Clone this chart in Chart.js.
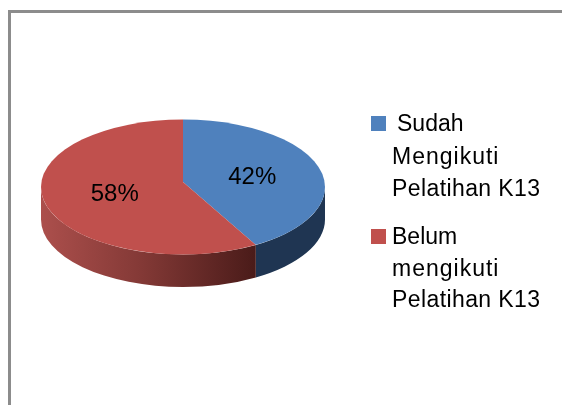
<!DOCTYPE html>
<html>
<head>
<meta charset="utf-8">
<style>
html,body{margin:0;padding:0;background:#fff;overflow:hidden}
#wrap{position:relative;width:562px;height:405px}
#frame{position:absolute;left:8px;top:10px;right:0;bottom:-10px;border-left:3px solid #8c8c8c;border-top:3px solid #8c8c8c}
canvas{position:absolute;left:0;top:0}
</style>
<script src="https://cdn.jsdelivr.net/npm/chart.js@4"></script>
</head>
<body>
<div id="wrap"><div id="frame"></div><canvas id="c" width="562" height="405"></canvas></div>
<script>
const categories = [["Sudah","Mengikuti","Pelatihan K13"],["Belum","mengikuti","Pelatihan K13"]];
const values = [42, 58];
const topColors = ["#4F81BD", "#C0504D"];

const SQUASH = 0.475, CY = 187, APEX_Y = 182, DEPTH = 32.5, GROW = 1.12;

const tilt = {
  id: 'tilt',
  beforeDatasetsDraw(chart) {
    const ctx = chart.ctx, arcs = chart.getDatasetMeta(0).data;
    const cx = arcs[0].x, r = arcs[0].outerRadius, ry = r * SQUASH;
    // the apex sits above the ellipse centre (perspective): map a slice angle to the rim
    const k = (CY - APEX_Y) / SQUASH;
    const toRim = (t) => {
      const dx = Math.cos(t), dy = Math.sin(t), od = -k * dy;
      const s = -od + Math.sqrt(od * od - (k * k - r * r));
      return Math.atan2(-k + s * dy, s * dx);
    };
    arcs.forEach((a, i) => {
      const lo = a.startAngle < 0 ? 0 : toRim(a.startAngle);
      const hi = a.endAngle > Math.PI ? Math.PI : toRim(a.endAngle);
      if (hi <= lo) return;
      ctx.save();
      ctx.beginPath();
      ctx.ellipse(cx, CY, r, ry, 0, lo, hi);
      ctx.ellipse(cx, CY + DEPTH, r, ry, 0, hi, lo, true);
      ctx.closePath();
      if (i === 0) {
        ctx.fillStyle = "#1F3552";
      } else {
        const g = ctx.createLinearGradient(cx - r, 0, cx + r * Math.cos(lo), 0);
        g.addColorStop(0, "#AC4F4C");
        g.addColorStop(0.45, "#853A37");
        g.addColorStop(1, "#4A1B19");
        ctx.fillStyle = g;
      }
      ctx.fill();
      ctx.restore();
    });
    ctx.save();
    ctx.beginPath();
    ctx.ellipse(cx, CY, r, ry, 0, 0, Math.PI * 2);
    ctx.clip();
    ctx.translate(cx, APEX_Y);
    ctx.scale(GROW, SQUASH * GROW);
    ctx.translate(-cx, -arcs[0].y);
  },
  afterDatasetsDraw(chart) {
    const ctx = chart.ctx, arcs = chart.getDatasetMeta(0).data;
    ctx.restore();
    // percentage labels at the slice centres
    ctx.save();
    ctx.fillStyle = "#000";
    ctx.font = "24px 'Liberation Sans'";
    ctx.textAlign = "center";
    ctx.textBaseline = "middle";
    arcs.forEach((a, i) => {
      const p = a.getCenterPoint();
      ctx.fillText(values[i] + "%", p.x + 0.5, CY + (p.y - a.y) * SQUASH - 1);
    });
    ctx.restore();
    // legend
    ctx.save();
    ctx.font = "23px 'Liberation Sans'";
    ctx.textAlign = "left";
    ctx.textBaseline = "alphabetic";
    const blocks = [{box: 116, lines: [131, 164, 196], firstX: 397}, {box: 229, lines: [244, 276, 307], firstX: 392}];
    const spacing = ["0px", "1px", "0.4px"];
    categories.forEach((lines, i) => {
      const b = blocks[i];
      ctx.fillStyle = topColors[i];
      ctx.fillRect(371, b.box, 15, 15);
      ctx.fillStyle = "#000";
      lines.forEach((t, j) => {
        ctx.letterSpacing = spacing[j];
        ctx.fillText(t, j === 0 ? b.firstX : 392, b.lines[j]);
      });
    });
    ctx.restore();
  }
};

new Chart(document.getElementById('c'), {
  type: 'pie',
  data: {
    labels: categories.map(l => l.join(' ')),
    datasets: [{data: values, backgroundColor: topColors, borderWidth: 0}]
  },
  options: {
    responsive: false,
    animation: false,
    layout: {padding: {left: 41, right: 237, top: 60, bottom: 60}},
    plugins: {legend: {display: false}, tooltip: {enabled: false}}
  },
  plugins: [tilt]
});
</script>
</body>
</html>
